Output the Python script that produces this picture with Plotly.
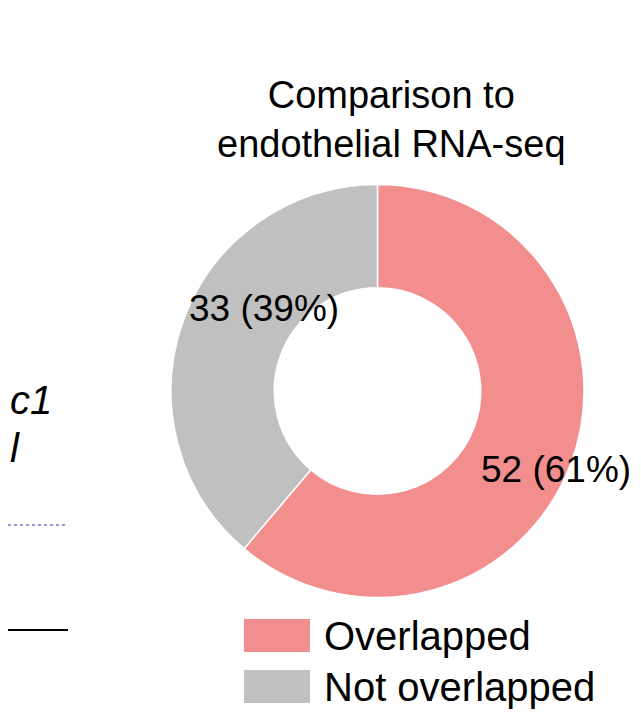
import plotly.graph_objects as go

labels = ["Overlapped", "Not overlapped"]
values = [52, 33]
colors = ["#F28E8E", "#C0C0C0"]
W, H = 641, 721
total = sum(values)
texts = [f"{v} ({round(100*v/total)}%)" for v in values]

fig = go.Figure(go.Pie(labels=labels, values=values, hole=0.5, sort=False, direction="clockwise",
                       rotation=0, marker=dict(colors=colors, line=dict(color="white", width=1.5)),
                       textinfo="none", hoverinfo="label+value+percent", showlegend=False,
                       domain=dict(x=[163/W, 576/W], y=[1-590/H, 1-176/H])))
F = "Liberation Sans, Arial, sans-serif"
def px(x, y): return x / W, 1 - y / H
ann = []
def add(text, x, y, size=31, xa="center", italic=False):
    ax, ay = px(x, y)
    t = f"<i>{text}</i>" if italic else text
    ann.append(dict(text=t, x=ax, y=ay, xref="paper", yref="paper", xanchor=xa, yanchor="middle",
                    showarrow=False, font=dict(family=F, size=size, color="black")))
add("Comparison to<br>endothelial RNA-seq", 383, 112, size=38)
add(texts[1], 256, 300, size=37)
add(texts[0], 548, 461, size=37)
add("c1", 0, 392, size=40, xa="left", italic=True)
add("l", 0, 440, size=40, xa="left", italic=True)
add(labels[0], 314, 628, size=40, xa="left")
add(labels[1], 314, 679, size=40, xa="left")
shapes = []
for i, c in enumerate(colors):
    x0, y0 = px(236, 611 + i*51); x1, y1 = px(302, 644 + i*51)
    shapes.append(dict(type="rect", xref="paper", yref="paper", x0=x0, x1=x1, y0=y1, y1=y0,
                       fillcolor=c, line=dict(width=0)))
a, b = px(0, 517); c_, d = px(57, 517)
shapes.append(dict(type="line", xref="paper", yref="paper", x0=a, x1=c_, y0=b, y1=d,
                   line=dict(color="#3333AA", width=1, dash="dot")))
a, b = px(0, 622); c_, d = px(60, 622)
shapes.append(dict(type="line", xref="paper", yref="paper", x0=a, x1=c_, y0=b, y1=d,
                   line=dict(color="black", width=2)))
fig.update_layout(width=W, height=H, margin=dict(l=0, r=0, t=0, b=0), paper_bgcolor="white",
                  plot_bgcolor="white", annotations=ann, shapes=shapes)
fig.write_html("out.html")
